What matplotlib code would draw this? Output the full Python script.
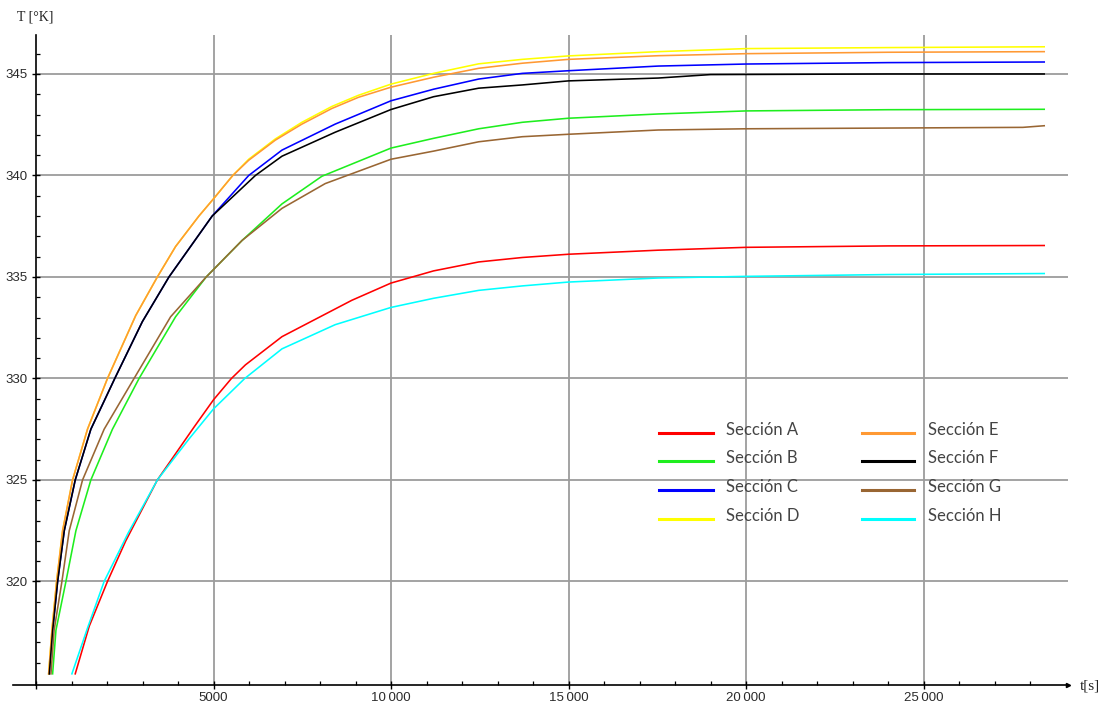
import matplotlib
matplotlib.use("Agg")
import matplotlib.pyplot as plt
from matplotlib.lines import Line2D

# ---- data: time [s] and temperature [K] for each section ----
t_a = [1105, 1500, 2013, 2528, 3418, 4450, 5000, 5505, 5899, 6929, 8895, 10000, 11200, 12470, 13700, 15000, 17530, 20000, 24000, 28400]
temp_a = [315.45, 317.8, 320.0, 322.0, 325.0, 327.6, 328.95, 330.0, 330.67, 332.06, 333.85, 334.7, 335.3, 335.74, 335.96, 336.12, 336.32, 336.46, 336.53, 336.55]

t_b = [468, 562, 843, 1124, 1545, 2153, 2903, 3932, 4794, 5805, 6929, 8052, 10000, 11200, 12470, 13700, 15000, 17530, 20000, 24000, 28400]
temp_b = [315.45, 317.6, 320.0, 322.5, 325.0, 327.5, 330.0, 333.04, 335.0, 336.8, 338.6, 339.96, 341.35, 341.83, 342.3, 342.62, 342.82, 343.03, 343.18, 343.24, 343.26]

t_c = [375, 470, 609, 796, 1105, 1545, 2219, 2996, 3745, 4962, 5992, 6929, 8427, 10000, 11200, 12470, 13700, 15000, 17530, 20000, 24000, 28400]
temp_c = [315.45, 317.6, 320.0, 322.5, 325.0, 327.5, 330.0, 332.8, 335.0, 338.0, 340.0, 341.25, 342.53, 343.68, 344.25, 344.75, 345.03, 345.16, 345.39, 345.49, 345.56, 345.59]

t_d = [356, 449, 580, 749, 1030, 1450, 2013, 2809, 3418, 3932, 4588, 5000, 5543, 5992, 6741, 7490, 8333, 9082, 10000, 11200, 12470, 13700, 15000, 17530, 20000, 24000, 28400]
temp_d = [315.45, 317.6, 320.0, 322.5, 325.0, 327.5, 330.0, 333.1, 335.0, 336.5, 338.0, 338.85, 340.0, 340.8, 341.8, 342.62, 343.4, 343.95, 344.5, 345.03, 345.5, 345.72, 345.89, 346.1, 346.25, 346.3, 346.34]

t_e = [356, 449, 580, 749, 1030, 1450, 2013, 2809, 3418, 3932, 4588, 5000, 5543, 5992, 6741, 7490, 8333, 9082, 10000, 11200, 12470, 13700, 15000, 17530, 20000, 24000, 28400]
temp_e = [315.45, 317.6, 320.0, 322.5, 325.0, 327.5, 330.0, 333.1, 335.0, 336.5, 338.0, 338.85, 340.0, 340.75, 341.74, 342.53, 343.3, 343.85, 344.35, 344.84, 345.28, 345.53, 345.72, 345.9, 346.0, 346.07, 346.1]

t_f = [375, 470, 609, 796, 1105, 1545, 2219, 2996, 3745, 4962, 6180, 6929, 8427, 10000, 11200, 12470, 13700, 15000, 17530, 19000, 24000, 28400]
temp_f = [315.45, 317.6, 320.0, 322.5, 325.0, 327.5, 330.0, 332.8, 335.0, 338.0, 340.0, 340.95, 342.13, 343.25, 343.88, 344.3, 344.46, 344.66, 344.8, 344.97, 345.0, 345.0]

t_g = [421, 510, 730, 936, 1311, 1919, 2762, 3792, 4794, 5805, 6929, 8146, 10000, 11200, 12470, 13700, 15000, 17530, 20000, 27800, 28400]
temp_g = [315.45, 317.6, 320.0, 322.5, 325.0, 327.5, 330.0, 333.04, 335.0, 336.8, 338.38, 339.6, 340.8, 341.2, 341.66, 341.91, 342.03, 342.24, 342.3, 342.37, 342.45]

t_h = [1011, 1450, 1919, 2600, 3418, 4300, 5000, 5880, 6929, 8427, 10000, 11200, 12470, 13700, 15000, 17530, 20000, 24000, 28400]
temp_h = [315.45, 317.7, 320.0, 322.4, 325.0, 327.0, 328.5, 330.0, 331.46, 332.65, 333.5, 333.95, 334.34, 334.56, 334.75, 334.95, 335.03, 335.12, 335.17]

labels = ["Sección A", "Sección B", "Sección C", "Sección D",
          "Sección E", "Sección F", "Sección G", "Sección H"]
colors = ["#FF0000", "#1EEE1E", "#0000FF", "#FFFF00",
          "#FF9933", "#000000", "#996633", "#00FFFF"]

x_major = [0, 5000, 10000, 15000, 20000, 25000]
x_labels = ["", "5000", "10\u2009000", "15\u2009000", "20\u2009000", "25\u2009000"]
y_major = [320, 325, 330, 335, 340, 345]

series = [(t_a, temp_a), (t_b, temp_b), (t_c, temp_c), (t_d, temp_d),
          (t_e, temp_e), (t_f, temp_f), (t_g, temp_g), (t_h, temp_h)]

# ---- figure layout (pixel based) ----
W, H = 1103, 708
fig = plt.figure(figsize=(W / 100, H / 100), dpi=100)


def fx(px):
    return px / W


def fy(py):
    return 1 - py / H


ax = fig.add_axes([fx(13), fy(685), fx(1068) - fx(13), fy(35) - fy(685)])
xmin, xmax = -648, 29070
ymin, ymax = 314.9, 346.92
ax.set_xlim(xmin, xmax)
ax.set_ylim(ymin, ymax)

grid_kw = dict(color="#9c9c9c", lw=1.3, zorder=1)
for xv in x_major[1:]:
    ax.axvline(xv, **grid_kw)
ax.hlines(y_major, 0, xmax, **grid_kw)

# curves
for (tt, temp), c in zip(series, colors):
    ax.plot(tt, temp, color=c, lw=1.15, zorder=3, solid_joinstyle="round")

# axes styling
for s in ("top", "right"):
    ax.spines[s].set_visible(False)
ax.spines["left"].set_position(("data", 0))
ax.spines["left"].set_linewidth(1.2)
ax.spines["bottom"].set_linewidth(1.2)

ax.set_xticks(x_major)
ax.set_xticklabels(x_labels)
ax.set_xticks(range(1000, 29000, 1000), minor=True)
ax.set_yticks(y_major)
ax.set_yticks(range(316, 347), minor=True)

for lab in ax.get_xticklabels() + ax.get_yticklabels():
    lab.set_fontfamily("Liberation Sans")
    lab.set_fontsize(9.5)
    lab.set_color("#2a2a2a")

ax.tick_params(axis="both", which="major", direction="inout", length=6, width=1.0)
ax.tick_params(axis="both", which="minor", direction="in", length=3, width=0.9)
ax.tick_params(axis="x", which="major", pad=2)
ax.tick_params(axis="y", which="major", pad=3)

# small arrow at the end of the time axis
ax.plot(1, 0, marker=">", ms=3, color="black", transform=ax.transAxes, clip_on=False)

# axis captions
fig.text(fx(17), fy(17), "T [°K]", family="Liberation Serif", size=10, va="center", color="#222")
fig.text(fx(1080), fy(686), "t[s]", family="Liberation Serif", size=11, va="center", color="#222")

# legend (two columns)
row_y = [433, 461, 490, 519]
col_line = [(659, 713), (862, 914)]
col_text = [726, 928]
for i, (lab, c) in enumerate(zip(labels, colors)):
    col, row = divmod(i, 4)
    x0, x1 = col_line[col]
    yy = row_y[row]
    fig.add_artist(Line2D([fx(x0), fx(x1)], [fy(yy), fy(yy)], color=c, lw=2.2))
    fig.text(fx(col_text[col]), fy(yy - 3), lab, family="Lato", size=12,
             va="center", ha="left", color="#444444")

fig.savefig("out.png", dpi=100)
